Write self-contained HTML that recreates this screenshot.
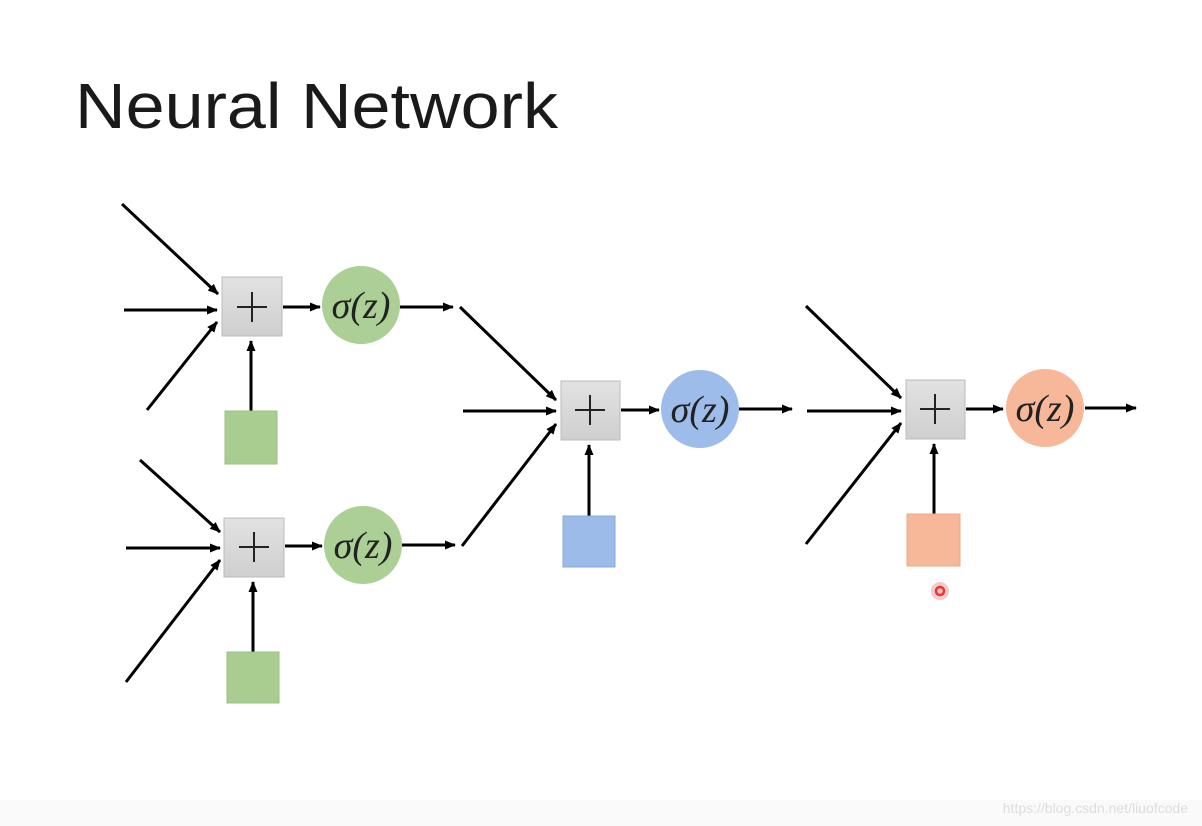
<!DOCTYPE html>
<html><head><meta charset="utf-8"><style>
html,body{margin:0;padding:0;background:#fff;}
svg{display:block;}
</style></head><body>
<svg width="1202" height="826" viewBox="0 0 1202 826" xmlns="http://www.w3.org/2000/svg">
<defs>
<marker id="a" markerWidth="11" markerHeight="9" refX="10" refY="4.5" orient="auto" markerUnits="userSpaceOnUse">
<path d="M0,0 L11,4.5 L0,9 Z" fill="#000"/>
</marker>
<linearGradient id="gb" x1="0" y1="0" x2="0" y2="1"><stop offset="0" stop-color="#e2e2e2"/><stop offset="1" stop-color="#cfcfcf"/></linearGradient>
</defs>
<rect x="0" y="800" width="1202" height="26" fill="#fafafa"/>
<text x="75" y="128" font-family="Liberation Sans, sans-serif" font-size="64" fill="#1a1a1a" textLength="483" lengthAdjust="spacingAndGlyphs">Neural Network</text>
<g stroke="#000" stroke-width="3" fill="none" marker-end="url(#a)">
<line x1="122" y1="204" x2="218" y2="294"/>
<line x1="124" y1="310" x2="217" y2="310"/>
<line x1="147" y1="410" x2="217" y2="322"/>
<line x1="251" y1="411" x2="251" y2="341"/>
<line x1="283" y1="307" x2="320" y2="307"/>
<line x1="400" y1="307" x2="453" y2="307"/>
<line x1="140" y1="460" x2="220" y2="532"/>
<line x1="126" y1="548" x2="220" y2="548"/>
<line x1="126" y1="682" x2="220" y2="560"/>
<line x1="253" y1="652" x2="253" y2="582"/>
<line x1="285" y1="546" x2="322" y2="546"/>
<line x1="402" y1="545" x2="455" y2="545"/>
<line x1="460" y1="307" x2="556" y2="400"/>
<line x1="463" y1="411" x2="556" y2="411"/>
<line x1="462" y1="546" x2="556" y2="424"/>
<line x1="589" y1="516" x2="589" y2="445"/>
<line x1="621" y1="410" x2="659" y2="410"/>
<line x1="739" y1="409" x2="792" y2="409"/>
<line x1="806" y1="306" x2="901" y2="398"/>
<line x1="807" y1="411" x2="901" y2="411"/>
<line x1="806" y1="544" x2="901" y2="423"/>
<line x1="934" y1="514" x2="934" y2="444"/>
<line x1="966" y1="409" x2="1003" y2="409"/>
<line x1="1085" y1="408" x2="1136" y2="408"/>
</g>
<g stroke="#bbb" stroke-width="1" fill="url(#gb)">
<rect x="222" y="277" width="60" height="59"/>
<rect x="224" y="518" width="60" height="59"/>
<rect x="561" y="381" width="59" height="59"/>
<rect x="906" y="380" width="59" height="59"/>
</g>
<g stroke="#222" stroke-width="2">
<path d="M237,307 H267 M252,292 V322"/>
<path d="M239,547 H269 M254,532 V562"/>
<path d="M575,410 H605 M590,395 V425"/>
<path d="M920,409 H950 M935,394 V424"/>
</g>
<rect x="225" y="411" width="52" height="53" fill="#a9cc91" stroke="#9bbf85"/>
<rect x="227" y="652" width="52" height="51" fill="#a9cc91" stroke="#9bbf85"/>
<rect x="563" y="516" width="52" height="51" fill="#9dbbe8" stroke="#8aa9da"/>
<rect x="907" y="514" width="53" height="52" fill="#f6b898" stroke="#e9a987"/>
<circle cx="361" cy="305" r="39" fill="#abcf95"/>
<circle cx="363" cy="545" r="39" fill="#abcf95"/>
<circle cx="700" cy="409" r="39" fill="#9ebce9"/>
<circle cx="1045" cy="408" r="39" fill="#f6b898"/>
<g font-family="Liberation Serif, serif" font-size="38" font-style="italic" text-anchor="middle" fill="#222">
<text x="361" y="318">σ(z)</text>
<text x="363" y="558">σ(z)</text>
<text x="700" y="422">σ(z)</text>
<text x="1045" y="421">σ(z)</text>
</g>
<circle cx="940" cy="591" r="9" fill="#f8c9c9"/>
<circle cx="940" cy="591" r="4" fill="none" stroke="#e33" stroke-width="2.5"/>
<text x="1188" y="813" text-anchor="end" font-family="Liberation Sans, sans-serif" font-size="14" fill="#ddd">https://blog.csdn.net/liuofcode</text>
</svg>
</body></html>
